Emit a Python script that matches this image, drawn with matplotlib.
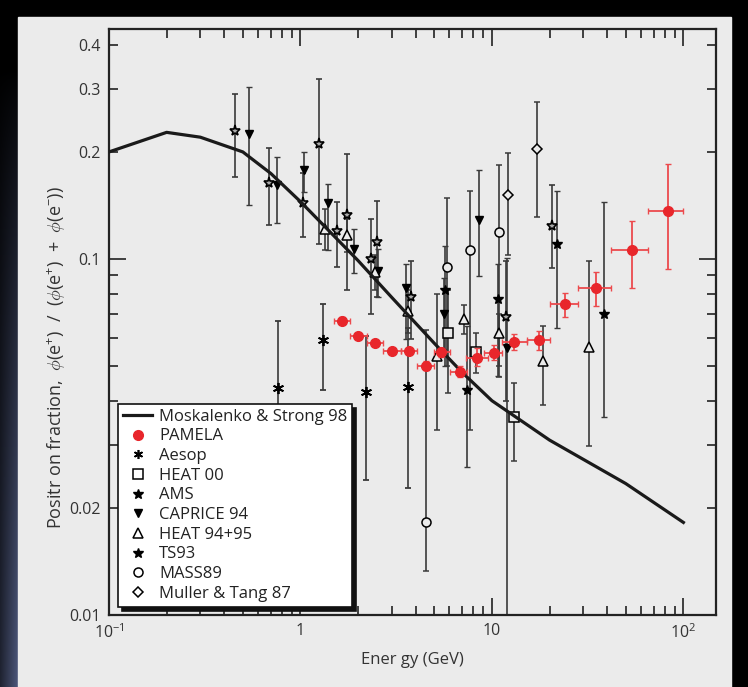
import numpy as np
import matplotlib.pyplot as plt
from matplotlib.lines import Line2D
from matplotlib.patches import Rectangle
from matplotlib.ticker import FixedLocator, FixedFormatter, NullFormatter

plt.rcParams['font.family'] = ['Open Sans', 'DejaVu Sans']
plt.rcParams['mathtext.fontset'] = 'custom'
plt.rcParams['mathtext.rm'] = 'Open Sans'
plt.rcParams['mathtext.it'] = 'Open Sans:italic'

# model curve
moskalenko_E = [0.1, 0.2, 0.3, 0.5, 0.7, 1.0, 2.0, 3.0, 5.0, 7.0, 10, 20, 50, 100]
moskalenko_f = [0.200, 0.227, 0.220, 0.200, 0.174, 0.145, 0.099, 0.078, 0.058, 0.048,
                0.040, 0.031, 0.0234, 0.0182]

# PAMELA
pamela_E = [1.65, 1.99, 2.44, 3.0, 3.69, 4.53, 5.45, 6.85, 8.4, 10.2, 13.1, 17.6, 24.0, 35.1, 53.6, 82.7]
pamela_Elo = [1.5, 1.81, 2.22, 2.71, 3.35, 4.08, 5.0, 6.05, 7.3, 9.1, 11.3, 15.2, 20.0, 28.0, 42.0, 65.0]
pamela_Ehi = [1.82, 2.22, 2.71, 3.35, 4.08, 5.0, 6.05, 7.45, 9.5, 11.3, 15.2, 20.2, 28.0, 42.0, 65.0, 100.0]
pamela_f = [0.0671, 0.0607, 0.0582, 0.0551, 0.0551, 0.0502, 0.0548, 0.0482, 0.0529, 0.0546,
            0.0585, 0.0591, 0.0746, 0.0829, 0.1062, 0.1364]
pamela_lo = [0.0657, 0.0595, 0.0571, 0.0540, 0.0540, 0.0489, 0.0532, 0.0467, 0.0500, 0.0520,
             0.0555, 0.0554, 0.0686, 0.0738, 0.0831, 0.0937]
pamela_hi = [0.0686, 0.0620, 0.0594, 0.0563, 0.0563, 0.0516, 0.0563, 0.0500, 0.0561, 0.0573,
             0.0614, 0.0629, 0.0804, 0.0921, 0.128, 0.185]

# Aesop
aesop_E = [0.76, 1.31, 2.19, 3.64]
aesop_f = [0.0434, 0.0592, 0.0422, 0.0438]
aesop_lo = [0.025, 0.0428, 0.024, 0.0228]
aesop_hi = [0.0671, 0.0746, 0.0608, 0.0639]

# HEAT 00
heat00_E = [5.9, 8.3, 13.1]
heat00_f = [0.062, 0.0549, 0.036]
heat00_lo = [0.042, 0.048, 0.027]
heat00_hi = [0.082, 0.0618, 0.045]

# AMS
ams_E = [0.453, 0.682, 1.03, 1.25, 1.55, 1.75, 2.33, 2.5, 3.77, 11.9, 20.7]
ams_f = [0.229, 0.164, 0.144, 0.21, 0.120, 0.133, 0.100, 0.1116, 0.078, 0.0689, 0.1238]
ams_lo = [0.17, 0.1245, 0.115, 0.11, 0.0948, 0.0818, 0.070, 0.0784, 0.0598, 0.040, 0.0942]
ams_hi = [0.29, 0.205, 0.175, 0.32, 0.145, 0.197, 0.130, 0.146, 0.099, 0.099, 0.162]

# CAPRICE 94
caprice_E = [0.54, 0.75, 1.04, 1.40, 1.90, 2.53, 3.56, 5.63, 8.57, 12.0]
caprice_f = [0.2245, 0.161, 0.178, 0.144, 0.1067, 0.0928, 0.0828, 0.070, 0.129, 0.0561]
caprice_lo = [0.142, 0.126, 0.154, 0.106, 0.0912, 0.078, 0.0598, 0.056, 0.0896, 0.005]
caprice_hi = [0.304, 0.194, 0.200, 0.1624, 0.1214, 0.107, 0.0968, 0.0885, 0.178, 0.101]

# HEAT 94+95
heat95_E = [1.35, 1.75, 2.45, 3.66, 5.15, 7.18, 10.9, 18.5, 32.3]
heat95_f = [0.1214, 0.1168, 0.092, 0.0714, 0.0535, 0.0677, 0.0618, 0.0518, 0.0568]
heat95_lo = [0.106, 0.105, 0.082, 0.062, 0.033, 0.0617, 0.0467, 0.039, 0.0299]
heat95_hi = [0.138, 0.13, 0.103, 0.082, 0.080, 0.0743, 0.070, 0.0648, 0.099]

# TS93
ts93_E = [5.69, 7.45, 10.8, 22.0, 38.3]
ts93_f = [0.082, 0.043, 0.0772, 0.110, 0.070]
ts93_lo = [0.050, 0.026, 0.047, 0.0639, 0.036]
ts93_hi = [0.1088, 0.065, 0.097, 0.1556, 0.1447]

# MASS89
mass_E = [4.53, 5.83, 7.69, 10.9]
mass_f = [0.0183, 0.095, 0.106, 0.119]
mass_lo = [0.0133, 0.05, 0.033, 0.05]
mass_hi = [0.0632, 0.148, 0.155, 0.184]

# Muller & Tang 87
muller_E = [12.2, 17.2]
muller_f = [0.151, 0.2037]
muller_lo = [0.1026, 0.1315]
muller_hi = [0.199, 0.276]

legend_names = ['Moskalenko & Strong 98', 'PAMELA', 'Aesop', 'HEAT 00', 'AMS', 'CAPRICE 94',
                'HEAT 94+95', 'TS93', 'MASS89', 'Muller & Tang 87']

BG = '#ebebeb'
INK = '#222222'
RED = '#e8262b'


def yerr(f, lo, hi):
    f = np.array(f)
    return [f - np.array(lo), np.array(hi) - f]


fig = plt.figure(figsize=(7.48, 6.87), dpi=100, facecolor='black')

# slide-like backdrop
bg = fig.add_axes([0, 0, 1, 1])
bg.set_axis_off()
rows = np.linspace(0, 1, 200)[:, None]
cols = np.linspace(0, 1, 40)[None, :]
strength = np.clip((rows - 0.1) / 0.9, 0, 1) ** 0.8 * (0.4 + 0.6 * cols)
grad = np.zeros((200, 40, 3))
grad[..., 0] = 0.30 * strength
grad[..., 1] = 0.34 * strength
grad[..., 2] = 0.48 * strength
bg.imshow(grad, extent=[0, 18, 687, 0], aspect='auto')
bg.add_patch(Rectangle((18, 17), 713, 670, color=BG))
bg.set_xlim(0, 748)
bg.set_ylim(687, 0)

ax = fig.add_axes([109 / 748, 1 - 615 / 687, 607 / 748, 586 / 687])
ax.set_facecolor(BG)
ax.set_xscale('log')
ax.set_yscale('log')

ekw = dict(ecolor='#3a3a3a', elinewidth=1.2, capsize=2, capthick=1.0, linestyle='none', zorder=2)

ax.errorbar(aesop_E, aesop_f, yerr=yerr(aesop_f, aesop_lo, aesop_hi), marker=(6, 2, 0),
            ms=8, mec='k', mew=1.3, **ekw)
ax.errorbar(heat00_E, heat00_f, yerr=yerr(heat00_f, heat00_lo, heat00_hi), marker='s',
            ms=6.5, mfc=BG, mec='k', mew=1.1, **ekw)
ax.errorbar(ams_E, ams_f, yerr=yerr(ams_f, ams_lo, ams_hi), marker='*',
            ms=8, mfc='#aaaaaa', mec='k', mew=1.2, **ekw)
ax.errorbar(caprice_E, caprice_f, yerr=yerr(caprice_f, caprice_lo, caprice_hi), marker='v',
            ms=5.5, mfc='k', mec='k', **ekw)
ax.errorbar(heat95_E, heat95_f, yerr=yerr(heat95_f, heat95_lo, heat95_hi), marker='^',
            ms=7, mfc=BG, mec='k', mew=1.1, **ekw)
ax.errorbar(ts93_E, ts93_f, yerr=yerr(ts93_f, ts93_lo, ts93_hi), marker='*',
            ms=7, mfc='k', mec='k', **ekw)
ax.errorbar(mass_E, mass_f, yerr=yerr(mass_f, mass_lo, mass_hi), marker='o',
            ms=6.5, mfc=BG, mec='k', mew=1.1, **ekw)
ax.errorbar(muller_E, muller_f, yerr=yerr(muller_f, muller_lo, muller_hi), marker='D',
            ms=5.5, mfc=BG, mec='k', mew=1.1, **ekw)

ax.plot(moskalenko_E, moskalenko_f, color='#1a1a1a', lw=2.3, zorder=3)

pe = np.array(pamela_E)
ax.errorbar(pamela_E, pamela_f,
            xerr=[pe - np.array(pamela_Elo), np.array(pamela_Ehi) - pe],
            yerr=yerr(pamela_f, pamela_lo, pamela_hi),
            fmt='o', ms=7, color=RED, ecolor='#ec4a4d', elinewidth=1.3,
            capsize=2, capthick=1.0, zorder=4)

ax.set_xlim(0.1, 148)
ax.set_ylim(0.01, 0.443)

ax.xaxis.set_major_locator(FixedLocator([0.1, 1, 10, 100]))
ax.xaxis.set_major_formatter(FixedFormatter(['10$^{-1}$', '1', '10', '10$^{2}$']))
xminor = [m * d for d in [0.1, 1, 10, 100] for m in range(2, 10)]
ax.xaxis.set_minor_locator(FixedLocator(xminor))
ax.xaxis.set_minor_formatter(NullFormatter())

ax.yaxis.set_major_locator(FixedLocator([0.01, 0.1]))
ax.yaxis.set_major_formatter(FixedFormatter(['0.01', '0.1']))
yminor = [0.02, 0.03, 0.04, 0.05, 0.06, 0.07, 0.08, 0.09, 0.2, 0.3, 0.4]
ylab = ['0.02', '', '', '', '', '', '', '', '0.2', '0.3', '0.4']
ax.yaxis.set_minor_locator(FixedLocator(yminor))
ax.yaxis.set_minor_formatter(FixedFormatter(ylab))

ax.tick_params(which='both', direction='in', top=True, right=True, color=INK,
               labelcolor='#333333', labelsize=11.5, width=1.2)
ax.tick_params(which='major', length=12.5)
ax.tick_params(which='minor', length=6.3)
ax.tick_params(axis='x', which='both', pad=6)
ax.tick_params(axis='y', which='both', pad=6)
for s in ax.spines.values():
    s.set_linewidth(1.6)
    s.set_color(INK)

ax.set_xlabel('Ener gy (GeV)', fontsize=12, color='#333333', labelpad=7)
ax.set_ylabel('Positr on fraction,  $\\phi$(e$^{+}$)  /  ($\\phi$(e$^{+}$)  +  $\\phi$(e$^{-}$))',
              fontsize=13, color='#333333')
ax.yaxis.set_label_coords(-0.068, 0.44)

handles = [
    Line2D([], [], color='#1a1a1a', lw=2.3),
    Line2D([], [], marker='o', ls='none', ms=7, color=RED),
    Line2D([], [], marker=(6, 2, 0), ls='none', ms=6.5, mec='k', mew=1.2),
    Line2D([], [], marker='s', ls='none', ms=6.5, mfc='white', mec='k', mew=1.1),
    Line2D([], [], marker='*', ls='none', ms=7.5, mfc='k', mec='k'),
    Line2D([], [], marker='v', ls='none', ms=6, mfc='k', mec='k'),
    Line2D([], [], marker='^', ls='none', ms=7, mfc='white', mec='k', mew=1.1),
    Line2D([], [], marker='*', ls='none', ms=7, mfc='k', mec='k'),
    Line2D([], [], marker='o', ls='none', ms=6.5, mfc='white', mec='k', mew=1.1),
    Line2D([], [], marker='D', ls='none', ms=5.5, mfc='white', mec='k', mew=1.1),
]
leg = ax.legend(handles, legend_names, loc='lower left', bbox_to_anchor=(0.015, 0.014),
                borderaxespad=0, fontsize=12, labelspacing=0.22, handlelength=1.75,
                handletextpad=0.4, borderpad=0.3, fancybox=False, framealpha=1,
                edgecolor='#111111', facecolor='white',
                shadow={'ox': 3, 'oy': -3, 'color': '#111111', 'alpha': 1})
leg.get_frame().set_linewidth(1.2)
leg.set_zorder(10)
for t in leg.get_texts():
    t.set_color('#222222')

fig.savefig('out.png', dpi=100, facecolor=fig.get_facecolor())
